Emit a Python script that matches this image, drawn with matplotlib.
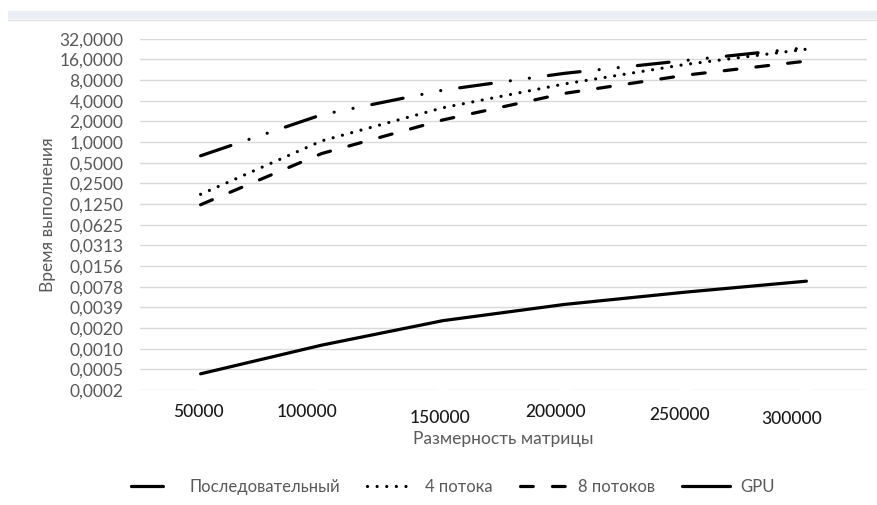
"""Execution time vs. matrix size: sequential, 4 threads, 8 threads and GPU.

Log2 time axis, Excel-like styling. Writes out.png.
"""

from decimal import Decimal, ROUND_HALF_UP

import matplotlib.pyplot as plt
from matplotlib.patches import Rectangle
from matplotlib.lines import Line2D
from matplotlib.ticker import FixedLocator, FuncFormatter, NullLocator
from matplotlib.transforms import ScaledTranslation, blended_transform_factory

SIZES = [50000, 100000, 150000, 200000, 250000, 300000]
SIZE_LABELS = [str(s) for s in SIZES]

SEQUENTIAL = [0.63, 2.5, 5.7, 10.0, 15.4, 23.7]
THREADS_4 = [0.173, 1.04, 3.16, 7.0, 13.5, 22.5]
THREADS_8 = [0.122, 0.68, 2.1, 5.1, 9.4, 15.1]
GPU = [0.00042, 0.0011, 0.0025, 0.0043, 0.0065, 0.0094]

SERIES_NAMES = ["Последовательный", "4 потока", "8 потоков", "GPU"]

Y_EXPONENTS = list(range(-12, 6))  # 2^-12 .. 2^5

# pixel nudges for the category labels (dx, dy)
LABEL_NUDGE = [(-2, 0), (-15, 0), (-3, -6), (-8, 0), (-6, -3), (-15, -7)]

FONT = "Lato"
GRID = "#D9D9D9"
GREY_TEXT = "#595959"
LW = 2.3


def fmt_tick(v, _pos):
    d = Decimal(float(v)).quantize(Decimal("0.0001"), rounding=ROUND_HALF_UP)
    return f"{d}".replace(".", ",")


def main() -> None:
    fig = plt.figure(figsize=(8.77, 5.05), dpi=100)
    W, H = 877, 505

    # header strip along the top edge
    fig.patches.append(Rectangle((8 / W, 1 - 19 / H), 1, 8 / H,
                                 transform=fig.transFigure,
                                 facecolor="#E9EEF5", edgecolor="none"))
    fig.lines.append(Line2D([8 / W, 1], [1 - 19.5 / H, 1 - 19.5 / H],
                            transform=fig.transFigure, color="#DCE0E6", lw=1))

    ax = fig.add_axes([140 / W, 1 - 390 / H, 727 / W, 351.3 / H])
    x = list(range(len(SIZES)))

    ax.plot(x, SEQUENTIAL, color="black", lw=LW, dash_capstyle="round",
            dashes=(10, 6, 0.01, 6, 0.01, 6), label=SERIES_NAMES[0])
    ax.plot(x, THREADS_4, color="black", lw=LW, dash_capstyle="round",
            dashes=(0.01, 3), label=SERIES_NAMES[1])
    ax.plot(x, THREADS_8, color="black", lw=LW, dash_capstyle="round",
            dashes=(4, 6), label=SERIES_NAMES[2])
    ax.plot(x, GPU, color="black", lw=LW, solid_capstyle="round",
            label=SERIES_NAMES[3])

    ax.set_yscale("log", base=2)
    ax.set_ylim(2.0 ** Y_EXPONENTS[0], 2.0 ** Y_EXPONENTS[-1])
    ax.yaxis.set_major_locator(FixedLocator([2.0 ** k for k in Y_EXPONENTS]))
    ax.yaxis.set_minor_locator(NullLocator())
    ax.yaxis.set_major_formatter(FuncFormatter(fmt_tick))
    ax.tick_params(axis="y", length=0, pad=12, labelsize=12.5,
                   labelcolor=GREY_TEXT, labelfontfamily=FONT)
    ax.yaxis.grid(True, color=GRID, lw=1.0)
    ax.set_axisbelow(True)

    # category axis: white tick marks cut small gaps in the bottom gridline
    ax.set_xlim(-0.5, len(SIZES) - 0.5)
    ax.set_xticks(x)
    ax.set_xticklabels([])
    ax.tick_params(axis="x", direction="inout", length=5, width=8,
                   color="white")
    ax.xaxis.set_zorder(3)

    for s in ax.spines.values():
        s.set_visible(False)

    trans = blended_transform_factory(ax.transData, ax.transAxes)
    for i, lab in enumerate(SIZE_LABELS):
        dx, dy = LABEL_NUDGE[i]
        off = ScaledTranslation(dx / 100, dy / 100, fig.dpi_scale_trans)
        ax.text(i, -22 / 351.3, lab, transform=trans + off, ha="center",
                va="center", fontsize=12.5, color="#1A1A1A", family=FONT,
                fontweight="medium")

    ax.set_xlabel("Размерность матрицы", fontsize=12.5, color=GREY_TEXT,
                  family=FONT, labelpad=0)
    ax.xaxis.set_label_coords(0.5, -41 / 351.3)
    ax.set_ylabel("Время выполнения", fontsize=12.5, color=GREY_TEXT,
                  family=FONT)
    ax.yaxis.set_label_coords(-84 / 727, 0.5)

    leg = ax.legend(loc="center", bbox_to_anchor=(453 / W, 1 - 487 / H),
                    bbox_transform=fig.transFigure, ncol=4, frameon=False,
                    handlelength=2.9, columnspacing=1.6, handletextpad=0.6,
                    prop={"family": FONT, "size": 12})
    for t in leg.get_texts():
        t.set_color(GREY_TEXT)

    fig.savefig("out.png", dpi=100, facecolor="white")


if __name__ == "__main__":
    main()
